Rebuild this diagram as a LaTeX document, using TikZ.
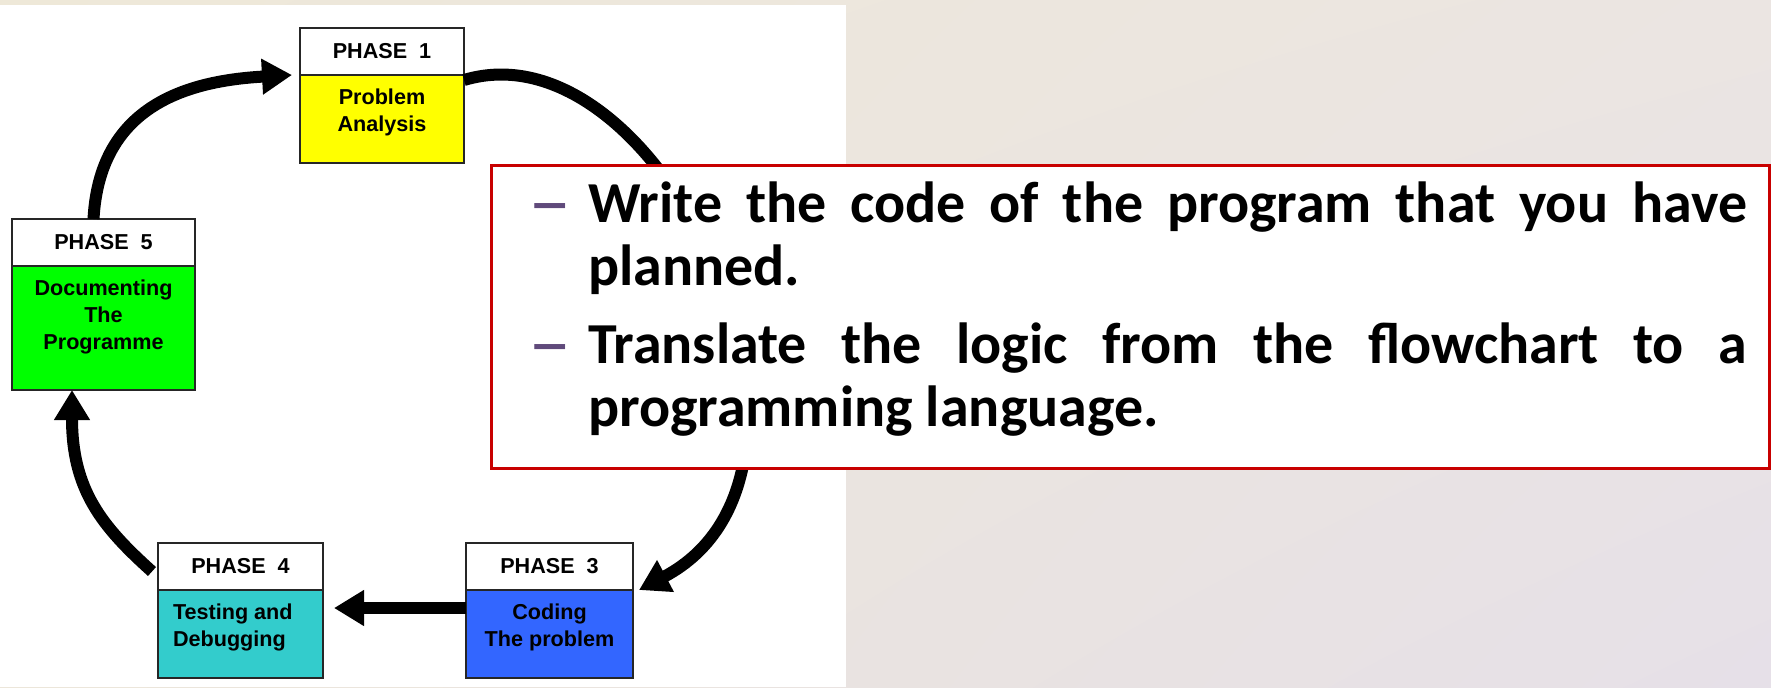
\documentclass[tikz,border=0pt]{standalone}
\usepackage{fontspec}
\newfontfamily\phasefont{Liberation Sans}
\newfontfamily\notefont{Carlito}
\usetikzlibrary{positioning, calc, arrows.meta, shadings}

\definecolor{probyellow}{RGB}{255,255,0}
\definecolor{docgreen}{RGB}{0,255,0}
\definecolor{testcyan}{RGB}{51,204,204}
\definecolor{codeblue}{RGB}{51,102,255}
\definecolor{notered}{RGB}{200,0,0}
\definecolor{dashpurple}{RGB}{96,74,123}
\definecolor{tanUL}{RGB}{238,232,216}
\definecolor{tanUR}{RGB}{235,229,226}
\definecolor{tanLL}{RGB}{236,230,218}
\definecolor{tanLR}{RGB}{230,224,232}

% body text of a phase box: height, width, lines
\newcommand{\phasetext}[3]{\parbox[c][#1][t]{#2}{\rule{0pt}{14.75pt}#3}}
% one bullet of the note
\newcommand{\taskitem}[1]{\par\hangindent=30pt\hangafter=1\noindent
  \makebox[30pt][l]{\color{dashpurple}\scalebox{1.5}[1]{\textendash}}#1}

\tikzset{
  phasehead/.style={draw=black!85, line width=0.9pt, fill=white, inner sep=0pt, outer sep=0pt,
    minimum height=23.5pt, anchor=north, font=\phasefont\bfseries\fontsize{10.8}{13.5}\selectfont},
  phasebody/.style={draw=black!85, line width=0.9pt, inner sep=0pt, outer sep=0pt,
    font=\phasefont\bfseries\fontsize{10.8}{13.5}\selectfont},
  cyclearrow/.style={line width=6pt, -{Triangle[length=15pt,width=17pt]}},
  notebox/.style={draw=notered, line width=1.5pt, fill=white, inner sep=0pt, outer sep=0pt},
}

\begin{document}
\begin{tikzpicture}[x=0.5pt,y=0.5pt,yscale=-1]
\useasboundingbox (0,0) rectangle (1771,687);

% slide background and white panel
\shade[upper left=tanUL, upper right=tanUR, lower left=tanLL, lower right=tanLR] (0,0) rectangle (1771,687);
\fill[white] (0,5) rectangle (846,687);

% phase boxes
\node[phasehead, minimum width=82pt] (p1head) at (382,28) {PHASE\ \ 1};
\node[phasebody, fill=probyellow, below=0pt of p1head] (p1body) {\phasetext{44pt}{82pt}{\centering Problem\\Analysis}};

\node[phasehead, minimum width=91.5pt] (p5head) at (103.5,219) {PHASE\ \ 5};
\node[phasebody, fill=docgreen, below=0pt of p5head] (p5body) {\phasetext{62pt}{91.5pt}{\centering Documenting\\The\\Programme}};

\node[phasehead, minimum width=82.5pt] (p4head) at (240.5,543) {PHASE\ \ 4};
\node[phasebody, fill=testcyan, below=0pt of p4head] (p4body) {\phasetext{44pt}{82.5pt}{\raggedright\leftskip=7.5pt Testing and\\Debugging}};

\node[phasehead, minimum width=83.5pt] (p3head) at (549.5,543) {PHASE\ \ 3};
\node[phasebody, fill=codeblue, below=0pt of p3head] (p3body) {\phasetext{44pt}{83.5pt}{\centering Coding\\The problem}};

% cycle arrows
\draw[cyclearrow] ($(p1body.north east)+(0,5)$) .. controls +(200,-60) and +(227,-120) .. ($(p3body.north east)+(6,0)$);
\draw[cyclearrow] ($(p3body.west)+(0,-26)$) -- ($(p4body.east)+(11,-26)$);
\draw[cyclearrow] ($(p4head.west)+(-6,5)$) .. controls +(-50,-45) and +(0,100) .. ($(p5body.south west)+(60,0)$);
\draw[cyclearrow] ($(p5head.north)+(-10,0)$) .. controls +(6,-110) and +(-110,6) .. ($(p1head.south west)+(-8,0)$);

% note on phase 3
\node[notebox, anchor=north west] (taskbox) at (491,165) {\parbox[c][151.5pt][t]{639pt}{%
  \notefont\bfseries\fontsize{29}{31.5}\selectfont
  \leftskip=18.5pt \rightskip=11pt \parskip=7.5pt \tolerance=9999
  \hyphenpenalty=10000 \exhyphenpenalty=10000
  \taskitem{\rule{0pt}{28.5pt}Write the code of the program that you have planned.}
  \taskitem{Translate the logic from the flowchart to a programming language.}}};
\end{tikzpicture}
\end{document}
